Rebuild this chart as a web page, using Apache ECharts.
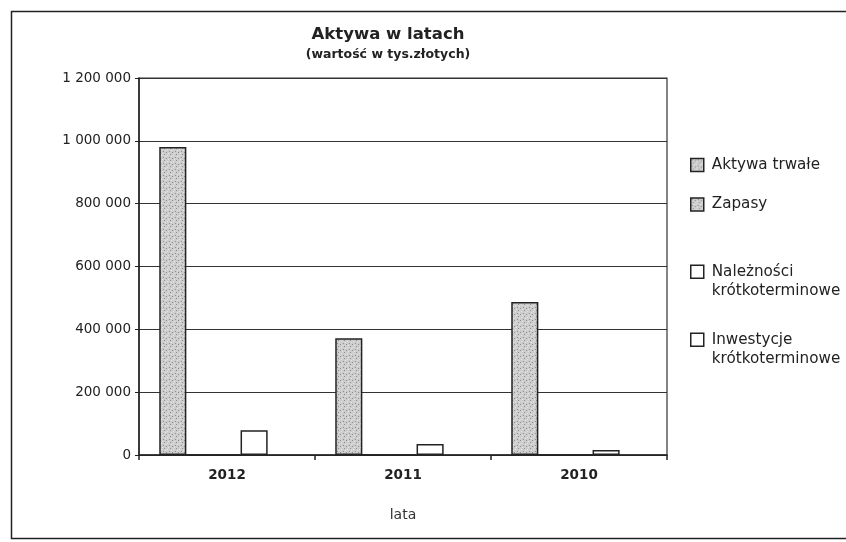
<!DOCTYPE html>
<html>
<head>
<meta charset="utf-8">
<script src="https://cdn.jsdelivr.net/npm/echarts@6/dist/echarts.min.js"></script>
<style>html,body{margin:0;padding:0;background:#fff}#c{width:846px;height:542px}</style>
</head>
<body>
<div id="c"></div>
<script>
var categories = ['2012', '2011', '2010'];
var seriesNames = ['Aktywa trwałe', 'Zapasy', 'Należności\nkrótkoterminowe', 'Inwestycje\nkrótkoterminowe'];
var aktywaTrwale = [980000, 372000, 487000];
var zapasy = [0, 0, 0];
var naleznosci = [0, 0, 0];
var inwestycje = [79000, 35000, 16000];
var extraSeries = [null, null, null];
var yTicks = [0, 200000, 400000, 600000, 800000, 1000000, 1200000];

function makePattern() {
  var cv = document.createElement('canvas');
  cv.width = 6; cv.height = 6;
  var ctx = cv.getContext('2d');
  ctx.fillStyle = '#cdcdcd';
  ctx.fillRect(0, 0, 6, 6);
  ctx.fillStyle = '#8f8f8f';
  ctx.fillRect(1, 1, 1, 1);
  ctx.fillRect(4, 2, 1, 1);
  ctx.fillRect(2, 4, 1, 1);
  ctx.fillStyle = '#e6e6e6';
  ctx.fillRect(3, 0, 1, 1);
  ctx.fillRect(0, 3, 1, 1);
  ctx.fillRect(5, 5, 1, 1);
  return cv;
}
var pat = {image: makePattern(), repeat: 'repeat'};

var font = 'DejaVu Sans, Liberation Sans, Arial, sans-serif';
var chart = echarts.init(document.getElementById('c'));

function fmt(v) { return String(v).replace(/\B(?=(\d{3})+(?!\d))/g, ' '); }

// one-line items: plain square icon; two-line items: square pinned to the first line
var legendTops = [155.5, 195, 261.5, 329.5];
var squareTop = 'path://M0,0L0,0 M0,2.3L10,2.3L10,12.3L0,12.3Z M0,29.2L0,29.2';
var legends = seriesNames.map(function (n, i) {
  var twoLine = n.indexOf('\n') >= 0;
  return {
    data: [n], left: 690, top: legendTops[i], orient: 'vertical', padding: 0,
    itemWidth: 13, itemHeight: twoLine ? 38 : 13, itemGap: 0,
    icon: twoLine ? squareTop : 'rect',
    selectedMode: false,
    itemStyle: {borderColor: '#222', borderWidth: 1.5},
    textStyle: {fontFamily: font, fontSize: 15.2, color: '#222', lineHeight: 19, padding: [0, 0, 0, 3]}
  };
});

var barBase = {type: 'bar', barGap: '0%', barCategoryGap: '23%', animation: false};

chart.setOption({
  backgroundColor: '#fff',
  animation: false,
  title: {
    text: 'Aktywa w latach',
    subtext: '(wartość w tys.złotych)',
    left: 388, top: 26, textAlign: 'center', itemGap: 4, padding: 0,
    textStyle: {fontFamily: font, fontSize: 16.5, fontWeight: 'bold', color: '#222', lineHeight: 18},
    subtextStyle: {fontFamily: font, fontSize: 12.5, fontWeight: 'bold', color: '#222', lineHeight: 14}
  },
  legend: legends,
  grid: {left: 139, right: 179, top: 78, bottom: 87, show: true, borderColor: '#333', borderWidth: 1.2, backgroundColor: 'transparent'},
  xAxis: {
    type: 'category', data: categories,
    name: 'lata', nameLocation: 'middle', nameGap: 53,
    nameTextStyle: {fontFamily: font, fontSize: 14, color: '#333'},
    axisLine: {lineStyle: {color: '#222', width: 1.5}},
    axisTick: {show: true, inside: false, length: 5, alignWithLabel: false, lineStyle: {color: '#222', width: 1.5}},
    axisLabel: {fontFamily: font, fontSize: 13.5, fontWeight: 'bold', color: '#222', margin: 13}
  },
  yAxis: {
    type: 'value', min: yTicks[0], max: yTicks[yTicks.length - 1], interval: yTicks[1] - yTicks[0],
    axisLine: {show: true, lineStyle: {color: '#222', width: 1.5}},
    axisTick: {show: true, length: 4, lineStyle: {color: '#222'}},
    axisLabel: {fontFamily: font, fontSize: 13.5, color: '#222', margin: 8, formatter: fmt},
    splitLine: {show: true, lineStyle: {color: '#333', width: 1.2}}
  },
  graphic: [{
    type: 'rect', shape: {x: 11.5, y: 11.5, width: 860, height: 527},
    style: {fill: 'none', stroke: '#222', lineWidth: 1.5}, silent: true, z: -1
  }],
  series: [
    Object.assign({}, barBase, {name: seriesNames[0], data: aktywaTrwale, itemStyle: {color: pat, borderColor: '#222', borderWidth: 1.5}}),
    Object.assign({}, barBase, {name: seriesNames[1], data: zapasy, itemStyle: {color: pat, borderColor: '#222', borderWidth: 1.5}}),
    Object.assign({}, barBase, {name: seriesNames[2], data: naleznosci, itemStyle: {color: '#fff', borderColor: '#222', borderWidth: 1.5}}),
    Object.assign({}, barBase, {name: seriesNames[3], data: inwestycje, itemStyle: {color: '#fff', borderColor: '#222', borderWidth: 1.5}}),
    Object.assign({}, barBase, {name: '', data: extraSeries, itemStyle: {color: '#fff', borderColor: '#222', borderWidth: 1.5}})
  ]
});
</script>
</body>
</html>
